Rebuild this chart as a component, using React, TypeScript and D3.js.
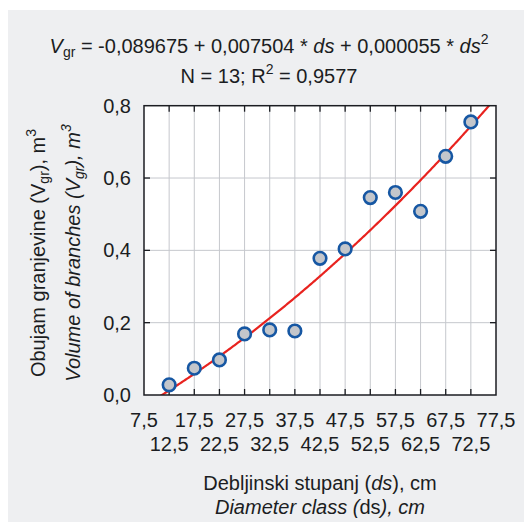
import React from "react";
import * as d3 from "d3";

// Diameter classes (cm) and measured branch volumes (m3)
const diameterClasses = [12.5, 17.5, 22.5, 27.5, 32.5, 37.5, 42.5, 47.5, 52.5, 57.5, 62.5, 67.5, 72.5];
const branchVolumes = [0.028, 0.074, 0.097, 0.169, 0.18, 0.177, 0.378, 0.404, 0.546, 0.56, 0.508, 0.66, 0.755];

// Fitted quadratic: V = b0 + b1*ds + b2*ds^2
const coefB0 = -0.089675;
const coefB1 = 0.007504;
const coefB2 = 0.000055;

const xTicks = [7.5, 12.5, 17.5, 22.5, 27.5, 32.5, 37.5, 42.5, 47.5, 52.5, 57.5, 62.5, 67.5, 72.5, 77.5];
const yTicks = [0, 0.2, 0.4, 0.6, 0.8];

const W = 524;
const H = 522;
const plot = { left: 144, right: 496, top: 105.7, bottom: 395 };

const FONT = "'Liberation Sans', Arial, sans-serif";
const TEXT = "#1b1d22";
const FS = 20;
const SUB = 14;

const fmt = (v: number, digits: number) => v.toFixed(digits).replace(".", ",");

export default function App() {
  const x = d3.scaleLinear().domain([7.5, 77.5]).range([plot.left, plot.right]);
  const y = d3.scaleLinear().domain([0, 0.8]).range([plot.bottom, plot.top]);

  const fit = (d: number) => coefB0 + coefB1 * d + coefB2 * d * d;
  const curveXs = d3.range(7.5, 77.5 + 0.001, 0.25);
  const line = d3
    .line<number>()
    .x((d) => x(d))
    .y((d) => y(fit(d)));

  const points = diameterClasses.map((d, i) => ({ d, v: branchVolumes[i] }));
  const tickLen = 6;

  return (
    <svg
      width={W}
      height={H}
      style={{ position: "absolute", left: 0, top: 0, display: "block", background: "#fff" }}
      fontFamily={FONT}
    >
      <defs>
        <clipPath id="plotClip">
          <rect x={plot.left} y={plot.top} width={plot.right - plot.left} height={plot.bottom - plot.top} />
        </clipPath>
      </defs>
      <rect x={8} y={10} width={W - 8} height={H - 10} fill="#eeeff1" />

      {/* Title */}
      <text x={269} y={53} textAnchor="middle" fontSize={FS} fill={TEXT}>
        <tspan fontStyle="italic">V</tspan>
        <tspan fontSize={SUB} dy={4}>gr</tspan>
        <tspan dy={-4}> = -0,089675 + 0,007504 * </tspan>
        <tspan fontStyle="italic">ds</tspan>
        <tspan> + 0,000055 * </tspan>
        <tspan fontStyle="italic">ds</tspan>
        <tspan fontSize={SUB} dy={-9}>2</tspan>
      </text>
      <text x={269} y={83} textAnchor="middle" fontSize={FS} fill={TEXT}>
        <tspan>N = 13; R</tspan>
        <tspan fontSize={SUB} dy={-9}>2</tspan>
        <tspan dy={9}> = 0,9577</tspan>
      </text>

      {/* Plot area */}
      <rect
        x={plot.left}
        y={plot.top}
        width={plot.right - plot.left}
        height={plot.bottom - plot.top}
        fill="#fff"
      />
      {xTicks.slice(1, -1).map((t) => (
        <line key={"gx" + t} x1={x(t)} x2={x(t)} y1={plot.top} y2={plot.bottom} stroke="#c6c8cd" strokeWidth={1} />
      ))}
      {yTicks.slice(1, -1).map((t) => (
        <line key={"gy" + t} x1={plot.left} x2={plot.right} y1={y(t)} y2={y(t)} stroke="#c6c8cd" strokeWidth={1} />
      ))}

      {/* Inward ticks on all four sides */}
      {xTicks.slice(1, -1).map((t) => (
        <g key={"tx" + t} stroke="#1b1d22" strokeWidth={1.3}>
          <line x1={x(t)} x2={x(t)} y1={plot.bottom} y2={plot.bottom - tickLen} />
          <line x1={x(t)} x2={x(t)} y1={plot.top} y2={plot.top + tickLen} />
        </g>
      ))}
      {yTicks.slice(1, -1).map((t) => (
        <g key={"ty" + t} stroke="#1b1d22" strokeWidth={1.3}>
          <line x1={plot.left} x2={plot.left + tickLen} y1={y(t)} y2={y(t)} />
          <line x1={plot.right} x2={plot.right - tickLen} y1={y(t)} y2={y(t)} />
        </g>
      ))}

      {/* Fitted curve */}
      <path d={line(curveXs) || ""} fill="none" stroke="#e8231f" strokeWidth={2.2} clipPath="url(#plotClip)" />

      {/* Observations */}
      {points.map((p) => (
        <circle key={p.d} cx={x(p.d)} cy={y(p.v)} r={6.3} fill="#c3c6cb" stroke="#1657a3" strokeWidth={2.6} />
      ))}

      {/* Frame */}
      <rect
        x={plot.left}
        y={plot.top}
        width={plot.right - plot.left}
        height={plot.bottom - plot.top}
        fill="none"
        stroke="#1b1d22"
        strokeWidth={1.5}
      />

      {/* Y tick labels */}
      {yTicks.map((t) => (
        <text key={"ly" + t} x={131} y={y(t) + 7} textAnchor="end" fontSize={FS} fill={TEXT}>
          {fmt(t, 1)}
        </text>
      ))}

      {/* X tick labels, staggered on two rows */}
      {xTicks.map((t, i) => (
        <text
          key={"lx" + t}
          x={x(t)}
          y={i % 2 === 0 ? 426.5 : 451}
          textAnchor="middle"
          fontSize={FS}
          fill={TEXT}
        >
          {fmt(t, 1)}
        </text>
      ))}

      {/* X axis title */}
      <text x={320} y={490} textAnchor="middle" fontSize={FS} fill={TEXT}>
        <tspan>Debljinski stupanj (</tspan>
        <tspan fontStyle="italic">ds</tspan>
        <tspan>), cm</tspan>
      </text>
      <text x={320} y={514} textAnchor="middle" fontSize={FS} fill={TEXT}>
        <tspan fontStyle="italic">Diameter class (</tspan>
        <tspan>ds</tspan>
        <tspan fontStyle="italic">), cm</tspan>
      </text>

      {/* Y axis title */}
      <g transform={`translate(45, 253) rotate(-90)`}>
        <text x={0} y={0} textAnchor="middle" fontSize={FS} fill={TEXT}>
          <tspan>Obujam granjevine (V</tspan>
          <tspan fontSize={SUB} dy={4}>gr</tspan>
          <tspan dy={-4}>), m</tspan>
          <tspan fontSize={SUB} dy={-9}>3</tspan>
        </text>
      </g>
      <g transform={`translate(80, 253) rotate(-90)`}>
        <text x={0} y={0} textAnchor="middle" fontSize={FS} fill={TEXT} fontStyle="italic">
          <tspan>Volume of branches (V</tspan>
          <tspan fontSize={SUB} dy={4}>gr</tspan>
          <tspan dy={-4}>), m</tspan>
          <tspan fontSize={SUB} dy={-9}>3</tspan>
        </text>
      </g>
    </svg>
  );
}
